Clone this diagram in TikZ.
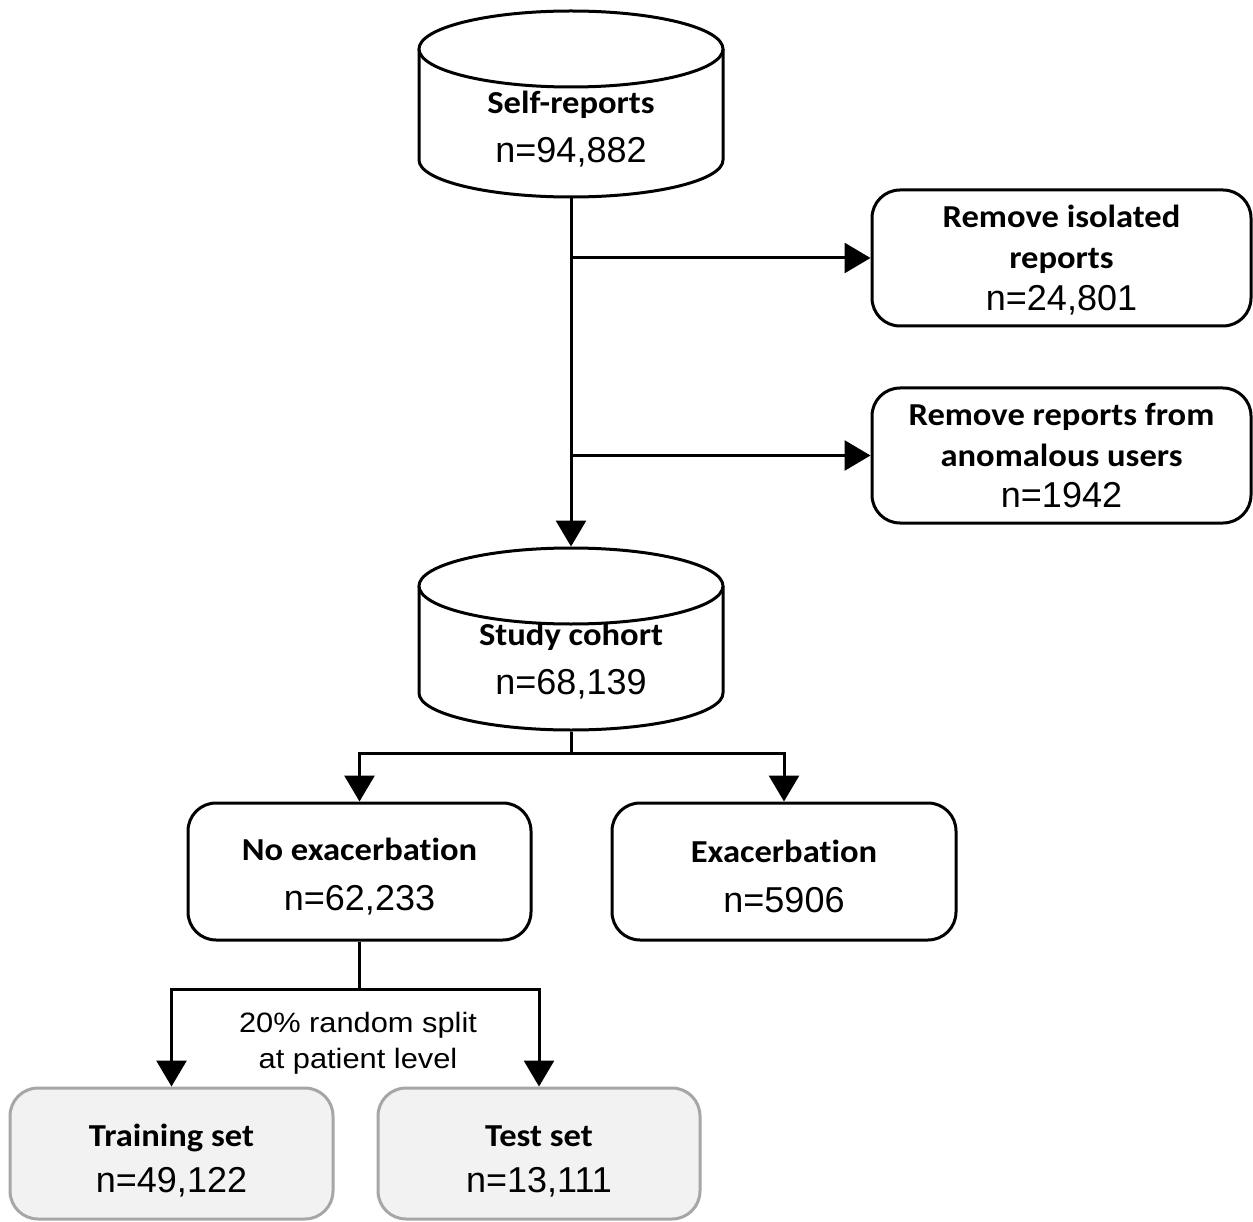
\documentclass[tikz,border=0pt]{standalone}
\usepackage{fontspec}
\usetikzlibrary{arrows.meta}
\newfontfamily\labfont[FakeStretch=1.08,Ligatures=NoCommon]{Carlito}
\newfontfamily\numfont{Liberation Sans}
\newfontfamily\notefont[FakeStretch=1.1]{Liberation Sans}
\newcommand{\bl}[1]{{\labfont\bfseries\fontsize{32}{38}\selectfont #1}}
\begin{document}
\begin{tikzpicture}[x=1pt,y=-1pt,
  line width=3pt,
  arr/.style={-{Triangle[width=30pt,length=26pt]}, line width=3pt},
  box/.style={draw, line width=3pt, rounded corners=28pt, fill=white, inner sep=0pt},
  gbox/.style={box, draw=black!35, fill=black!5},
  ghost/.style={draw=none, inner sep=0pt},
  txt/.style={align=center, inner sep=0pt, font=\numfont\fontsize{36}{49}\selectfont},
  note/.style={align=center, inner sep=0pt, font=\notefont\fontsize{28}{36}\selectfont}]
\useasboundingbox (0,0) rectangle (1253,1222);
% cylinder 1
\draw[line width=3pt, fill=white] (419,49) -- (419,160) arc[start angle=180, end angle=0, x radius=152, y radius=37] -- (723,49);
\draw[line width=3pt, fill=white] (571,49) ellipse [x radius=152, y radius=38];
\node[ghost, minimum width=304pt, minimum height=187pt] (c1) at (571,103.5) {};
\node[txt] (c1t) at (571,129.5) {\bl{Self-reports}\\n=94,882};
% cylinder 2
\draw[line width=3pt, fill=white] (419,586) -- (419,693) arc[start angle=180, end angle=0, x radius=152, y radius=37] -- (723,586);
\draw[line width=3pt, fill=white] (571,586) ellipse [x radius=152, y radius=38];
\node[ghost, minimum width=304pt, minimum height=182pt] (c2) at (571,639) {};
\node[txt] (c2t) at (571,661.5) {\bl{Study cohort}\\n=68,139};
% right boxes
\node[box, minimum width=379pt, minimum height=136pt] (r1) at (1061.5,258) {};
\node[txt, font=\numfont\fontsize{36}{41.5}\selectfont] (r1t) at (1061.5,260) {\bl{Remove isolated}\\\bl{reports}\\n=24,801};
\node[box, minimum width=379pt, minimum height=135pt] (r2) at (1061.5,455.5) {};
\node[txt, font=\numfont\fontsize{36}{41}\selectfont] (r2t) at (1061.5,456) {\bl{Remove reports from}\\\bl{anomalous users}\\n=1942};
% mid boxes
\node[box, minimum width=343pt, minimum height=137pt] (ne) at (359.5,871.5) {};
\node[txt, font=\numfont\fontsize{36}{50}\selectfont] (net) at (359.5,876.5) {\bl{No exacerbation}\\n=62,233};
\node[box, minimum width=344pt, minimum height=137pt] (ex) at (784,871.5) {};
\node[txt, font=\numfont\fontsize{36}{50}\selectfont] (ext) at (784,876.5) {\bl{Exacerbation}\\n=5906};
% bottom boxes
\node[gbox, minimum width=323pt, minimum height=131pt] (tr) at (171.5,1153.5) {};
\node[txt, font=\numfont\fontsize{36}{46}\selectfont] (trt) at (171.5,1161) {\bl{Training set}\\n=49,122};
\node[gbox, minimum width=322pt, minimum height=131pt] (te) at (539,1153.5) {};
\node[txt, font=\numfont\fontsize{36}{46}\selectfont] (tet) at (539,1161) {\bl{Test set}\\n=13,111};
% connectors
\draw[arr] (c1.south) -- (c2.north);
\draw[arr] (c1.south |- r1.west) -- (r1.west);
\draw[arr] (c1.south |- r2.west) -- (r2.west);
\draw[arr] (c2.south) -- ++(0,22) -| (ne.north);
\draw[arr] (c2.south) -- ++(0,22) -| (ex.north);
\draw[arr] (ne.south) -- ++(0,48) -| (tr.north);
\draw[arr] (ne.south) -- ++(0,48) -| (te.north);
\node[note] (lab) at (358,1043) {20\% random split\\at patient level};
\end{tikzpicture}
\end{document}
